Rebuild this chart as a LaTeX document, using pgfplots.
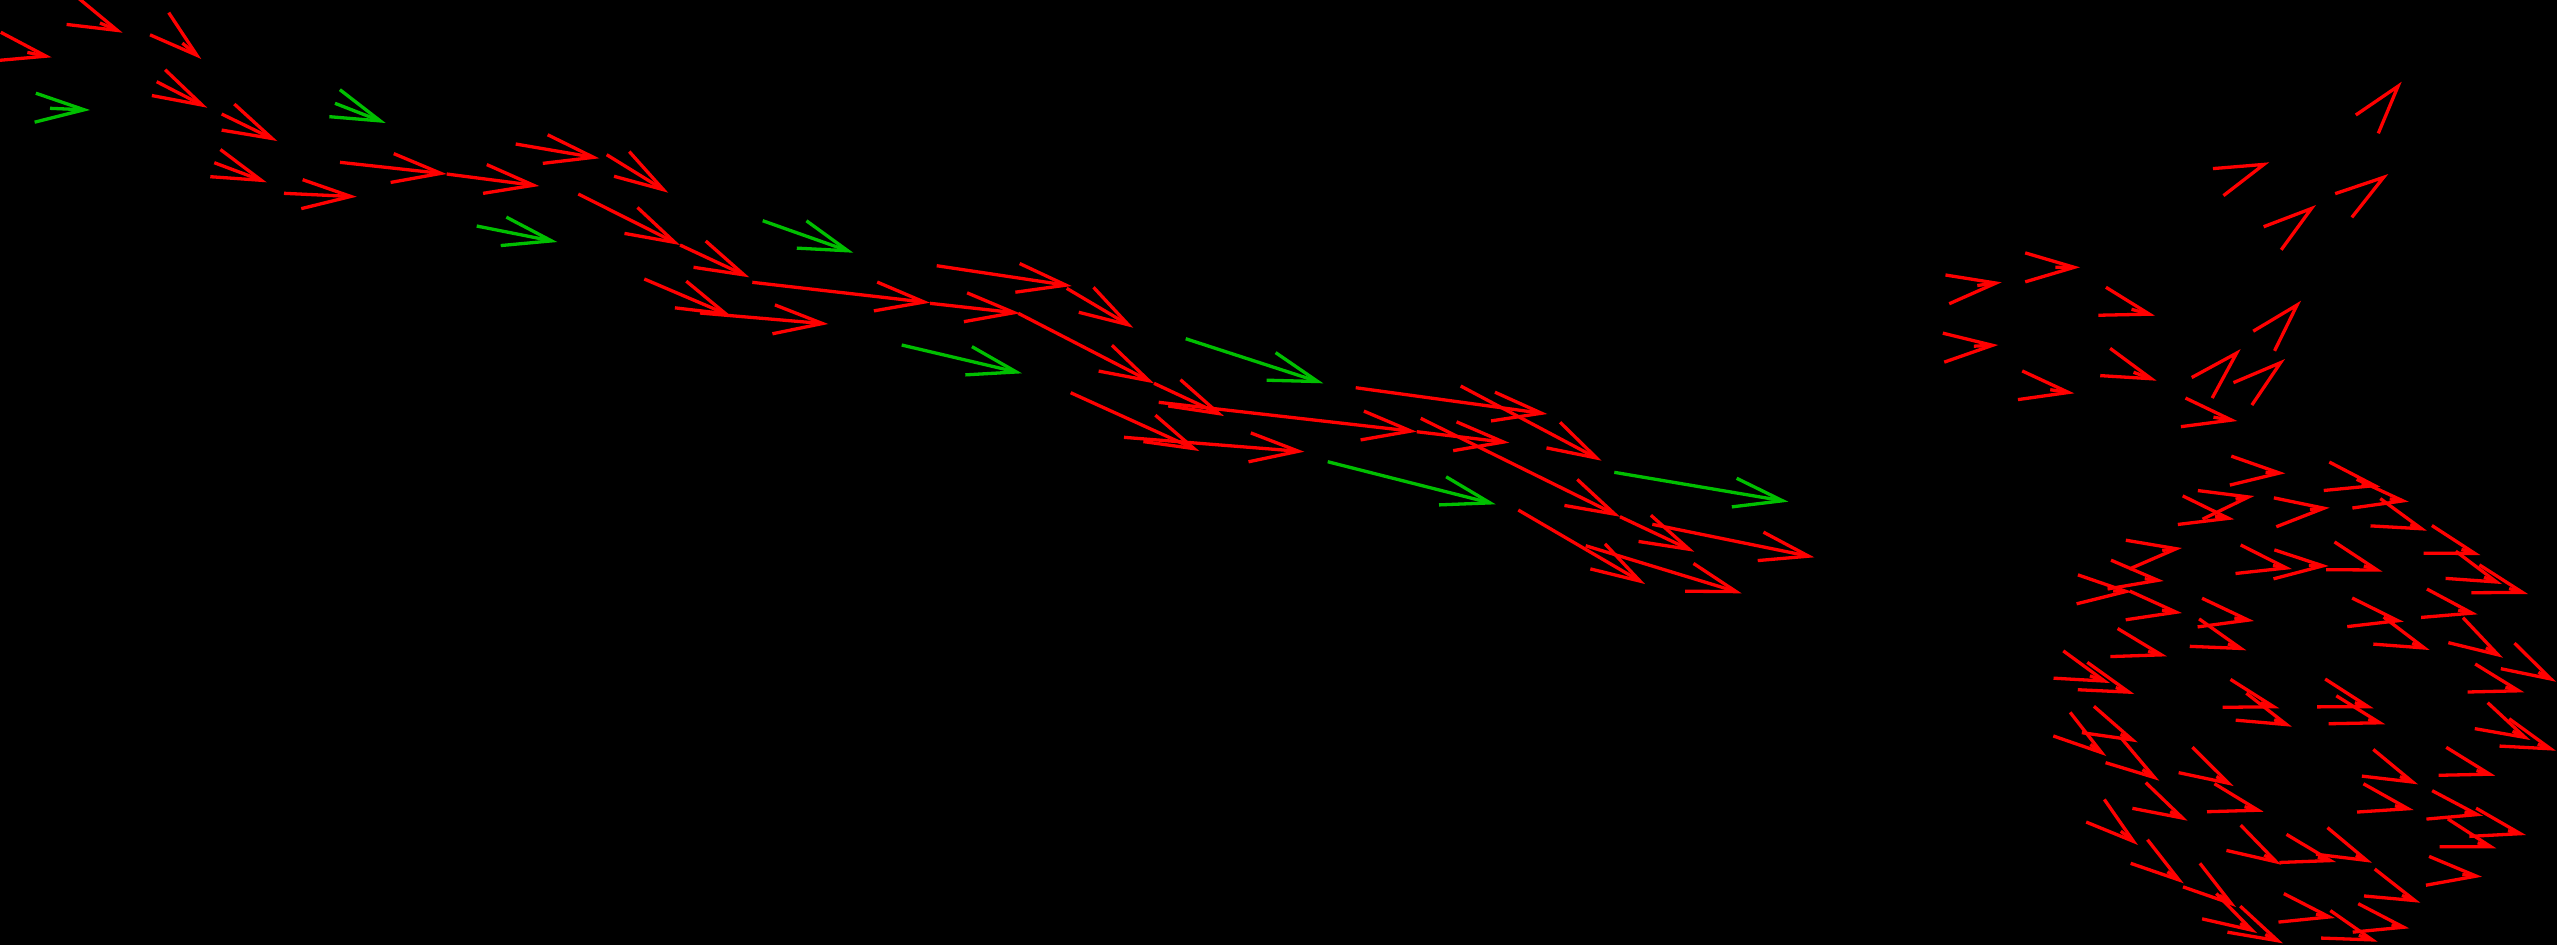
\documentclass[border=0pt]{standalone}
\usepackage{pgfplots}
\usepackage{pgfplotstable}
\pgfplotsset{compat=1.18}
\usetikzlibrary{arrows.meta}
\definecolor{qred}{RGB}{255,0,0}
\definecolor{qgreen}{RGB}{0,191,0}

% long arrows: shaft start (sx,sy) and tip (tx,ty), in pixel units, y downwards
\pgfplotstableread{
sx sy tx ty
156.7 81.7 207.3 107.7
221.7 114 277.3 141
214.3 162.7 266.7 182.3
284 193.3 356.7 196.7
340 162.3 446.7 174
515.7 144 599.3 158.3
446.7 174 539.3 186
606.7 154.7 668.3 192.7
578.3 194 680 245
680 245 749.3 277.3
644.3 279 731 316
700 313 828.3 324
752.3 282.3 930 302.7
930 303.3 1020 313.3
936.7 265.7 1071.7 286
1066.7 288.3 1133.3 327.7
1018.3 313.3 1154 383.3
1154 383.3 1224 416
1070.7 392.7 1199.3 451
1124 437.3 1304.3 451.7
1158.7 402.3 1416.7 431.7
1355.7 387.7 1547.3 414
1416.7 431.7 1509.3 442.7
1420.7 418.3 1620 516.7
1460.7 386 1601.7 460.7
1620 516.7 1694.3 551.7
1652.3 524.3 1814.3 557.3
1518.3 510 1645 584
1585.7 545.7 1741.7 593.3
}\longred

\pgfplotstableread{
sx sy tx ty
50 108.3 90 110
335 103.3 385.7 123
476.7 226 557.3 242
762.7 220.7 853.3 252.7
901.7 345 1022 373.3
1185.7 338.7 1323.3 383.3
1327.7 461.7 1495.7 504.3
1614.3 472.3 1788.3 501.7
}\longgreen

% head-only arrows: tip (tx,ty), barb ends (ax,ay) (bx,by), visible shaft fraction f
\pgfplotstableread{
tx ty ax ay bx by f
51.7 57.3 5 33.3 0.9 61.7 0.5
122.7 32.7 82.7 0.7 71.7 25.7 0.5
201.3 59 172.7 16.7 154.3 37.7 0.5
2401.7 81.7 2360 110.7 2381.7 128.3 0.15
2269.3 162.3 2218.3 167.3 2229 192.7 0.15
2388.3 174 2340 190.7 2356 214 0.15
2316 205 2268.3 223.3 2286 246 0.15
2001.7 282.3 1950.7 275 1955 302.3 0.5
2080 267.3 2030.7 254 2030.7 280.7 0.5
2155 315.7 2111.7 290 2104.3 315.7 0.5
2301 300.7 2257.7 327.7 2277.7 346 0.15
1998.3 345 1949 334 1950 360.7 0.5
2156.7 380.7 2115 351 2105.7 376.7 0.5
2240.7 349 2196.7 374 2216 392.7 0.15
2285 359 2239 379 2256 400.7 0.15
2074.3 393.3 2028.3 372.3 2024 400 0.5
2237.3 421 2192.3 400 2186.7 426.7 0.5
2285.3 473.3 2236.3 456.7 2235.3 485 0.4
2254.3 496 2204.3 490.7 2210.3 516.7 0.4
2234.3 519.3 2188.7 497.3 2183.7 525 0.4
2329.7 507.7 2278.7 497.7 2282 526 0.4
2380.3 486.7 2336.3 464.3 2331.3 491 0.4
2408.7 501.7 2365.3 479.3 2357 510 0.4
2427 530.7 2393.7 506 2376.3 525.3 0.4
2480.3 555 2437 527.7 2429.3 554.3 0.4
2182 548 2130.3 541 2134.7 567 0.4
2163.7 581 2115.3 561.7 2117 589 0.4
2132 591.7 2085.3 576 2084.7 603.3 0.4
2182 613 2133.7 592 2130.3 620 0.4
2254 621 2207 600 2202.7 626.7 0.4
2246.3 650.3 2205.3 621.7 2195.3 647.5 0.4
2167 656.3 2123 630.5 2116.3 657.5 0.4
2328.7 566 2279.7 551 2278.7 578 0.4
2292 569 2247.7 546.7 2241 574 0.4
2382.7 571.7 2339.7 544 2331.3 570.7 0.4
2528 594 2485.3 566.7 2476.3 594 0.4
2502 584 2463.7 556 2450.3 578.3 0.4
2403.7 621.7 2357.7 600 2353.7 626.7 0.4
2429.7 650 2393.7 622.7 2378 644 0.4
2477.7 614.3 2431.3 590.7 2426.3 617.7 0.4
2503 657.7 2467.7 620.7 2453 645 0.4
2556 681.7 2518.7 645.7 2505.3 670.7 0.4
2110 683 2064.3 651.7 2055.3 678.3 0.4
2134.3 694 2092 665 2083.7 690.7 0.4
2279.3 708.3 2236 681.7 2228.7 708.3 0.4
2292 726.7 2253.7 696.7 2241.3 721.7 0.4
2373.7 708.3 2330.3 680.7 2322.7 708.3 0.4
2385.3 724.3 2350.3 698.3 2334.7 726.7 0.4
2524.3 692.3 2480.3 666.7 2473.7 692.3 0.4
2530.3 740 2492.7 706 2479.3 730 0.4
2556 750.7 2515.3 721.7 2505.3 747.3 0.4
2495.3 775.7 2452 750 2444.3 775.7 0.4
2418 784.3 2378.7 751.7 2367 778.3 0.4
2413.7 810 2369.7 786 2363.7 812.7 0.4
2483 815.7 2439.7 792.7 2433.7 820 0.4
2526 835 2483 811.7 2478.7 836.7 0.4
2496.3 848.3 2453.7 820.7 2445.3 848.3 0.4
2482 876.7 2434.3 857.7 2431.3 885 0.4
2420.3 902.7 2379.7 871.7 2369.3 897.3 0.4
2409.3 928.3 2362.7 907.7 2367 931.7 0.4
2377.7 941.7 2334.7 912.7 2326 939 0.4
2335 918 2291 895.7 2283.7 922.3 0.4
2372 862.7 2332 831.7 2330.3 858.3 0.4
2336 862 2294.7 836.7 2286.3 864 0.4
2281.3 864.7 2246 828.3 2231.3 853 0.4
2263.7 811.7 2218.7 786.3 2212.7 811.7 0.4
2233.7 786 2197 750 2183.7 775 0.4
2187.7 820.7 2150.3 786 2137.7 810 0.4
2159.3 780.7 2124.3 741 2110.3 765 0.4
2137.7 742.3 2097.7 710 2091.3 735 0.4
2106.3 756 2074.7 715.7 2057.7 739 0.4
2138 845 2103.7 799.3 2086.3 821.7 0.4
2183.7 883.3 2151.3 842.6 2134.7 866 0.4
2236 907 2203.7 866.7 2187 889 0.4
2283 943.3 2245.3 909.5 2232 933.5 0.4
2257 933 2222 896.7 2207.7 922 0.4
}\headsred

\begin{document}
\begin{tikzpicture}
\begin{axis}[
  scale only axis,
  width=25.57cm, height=9.45cm,
  xmin=0, xmax=2557, ymin=0, ymax=945,
  y dir=reverse,
  axis lines=none, ticks=none,
  axis background/.style={fill=black},
  clip=true,
  every axis plot/.append style={line width=0.33mm,
    -{Straight Barb[length=4.9mm,width=2.9mm,sharp]}},
]
\addplot[qred, quiver={u=\thisrow{tx}-\thisrow{sx}, v=\thisrow{ty}-\thisrow{sy}}]
  table[x=sx, y=sy] {\longred};
\addplot[qgreen, quiver={u=\thisrow{tx}-\thisrow{sx}, v=\thisrow{ty}-\thisrow{sy}}]
  table[x=sx, y=sy] {\longgreen};
\addplot[qred, quiver={
    u=\thisrow{f}*(\thisrow{tx}-0.5*\thisrow{ax}-0.5*\thisrow{bx}),
    v=\thisrow{f}*(\thisrow{ty}-0.5*\thisrow{ay}-0.5*\thisrow{by})}]
  table[x expr={\thisrow{tx}-\thisrow{f}*(\thisrow{tx}-0.5*\thisrow{ax}-0.5*\thisrow{bx})},
        y expr={\thisrow{ty}-\thisrow{f}*(\thisrow{ty}-0.5*\thisrow{ay}-0.5*\thisrow{by})}] {\headsred};
\end{axis}
\pgfresetboundingbox
\useasboundingbox (current axis.south west) rectangle (current axis.north east);
\end{tikzpicture}
\end{document}
